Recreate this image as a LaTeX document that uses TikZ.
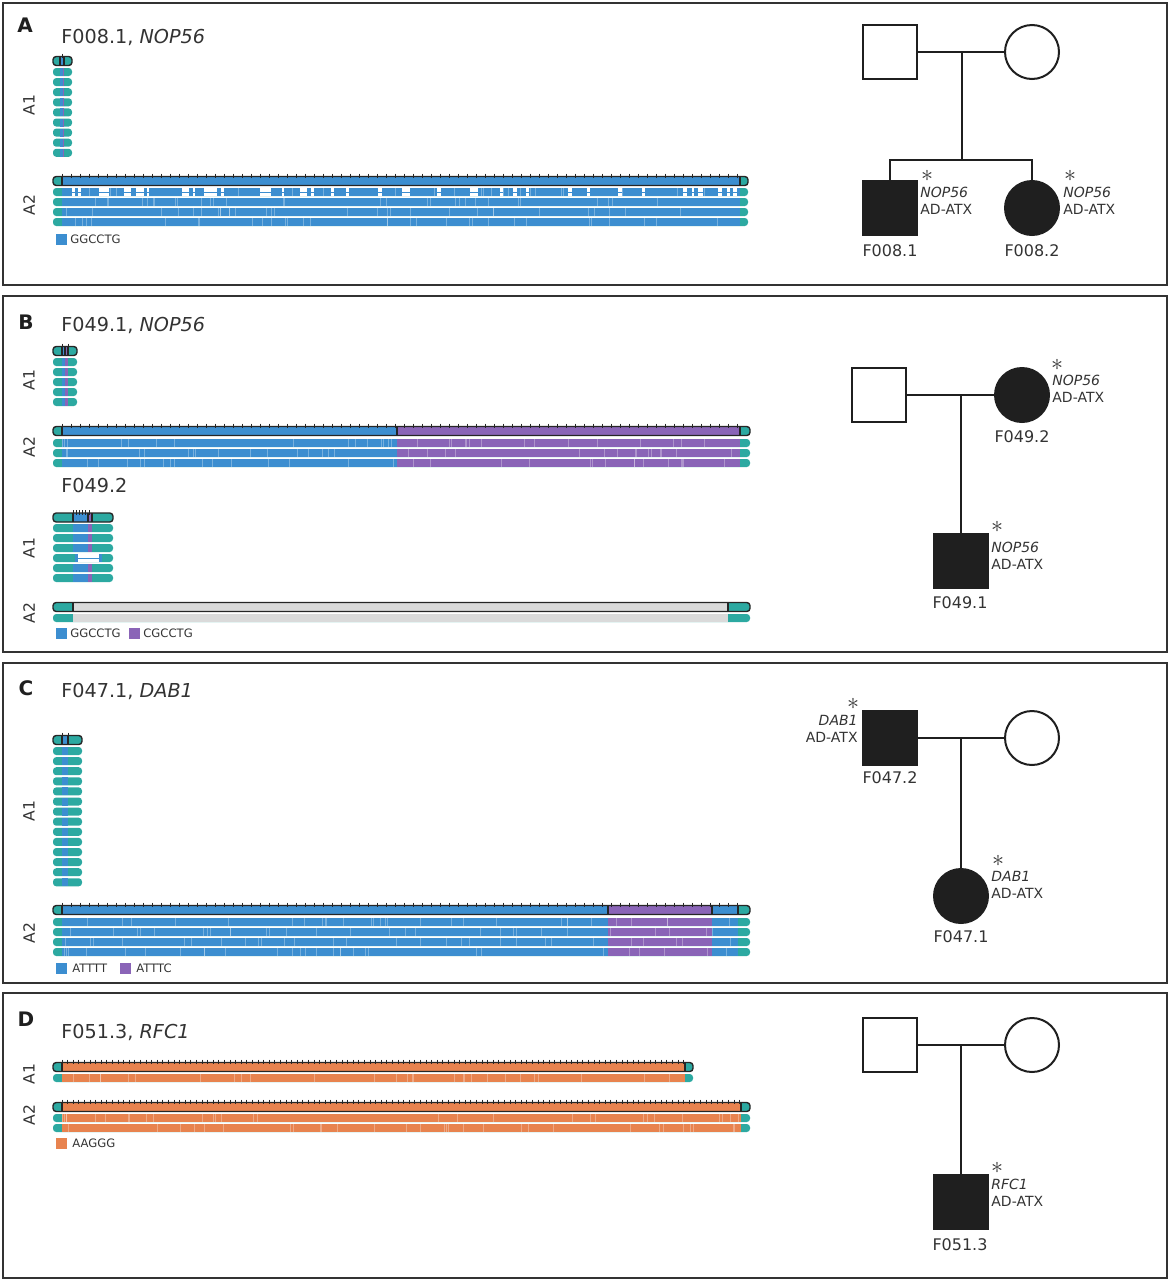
\documentclass[tikz,border=0pt]{standalone}
\usepackage{fontspec}
\setmainfont{DejaVu Sans}
\definecolor{ink}{HTML}{333333}
\definecolor{flank}{HTML}{2CA9A1}
\definecolor{rpA}{HTML}{3C8ED0}
\definecolor{rpB}{HTML}{8A64B7}
\definecolor{rpC}{HTML}{E8834F}
\definecolor{gapgrey}{HTML}{DADADA}

\newcommand{\seqread}[4]{%
  \fill[flank, rounded corners=1.6pt] (#1,#3-4) rectangle (#2,#3+4);
  \foreach \sa/\sb/\sc in {#4}{%
    \fill[\sc] (\sa,#3-4) rectangle (\sb,#3+4);
    \pgfmathtruncatemacro{\seqn}{(\sb-\sa)/22}
    \ifnum\seqn>0
      \foreach \seqk in {1,...,\seqn}{%
        \pgfmathsetmacro{\seqx}{\sa+rnd*(\sb-\sa)}
        \draw[white, opacity=.3, line width=.3pt] (\seqx,#3-4) -- (\seqx,#3+4);}
    \fi}}
\newcommand{\seqhead}[7]{%
  \fill[flank, rounded corners=1.6pt] (#1,#3-4.5) rectangle (#2,#3+4.5);
  \foreach \sa/\sb/\sc in {#4}{\fill[\sc] (\sa,#3-4.5) rectangle (\sb,#3+4.5);}
  \foreach \sa/\sb/\sc in {#4}{\draw[line width=.6pt, black!85] (\sa,#3-4.5) -- (\sa,#3+4.5) (\sb,#3-4.5) -- (\sb,#3+4.5);}
  \draw[line width=.7pt, black!85, rounded corners=1.6pt] (#1,#3-4.5) rectangle (#2,#3+4.5);
  \ifdim #7pt>0pt
    \pgfmathtruncatemacro{\seqt}{(#6-#5)/#7}
    \foreach \seqk in {0,...,\seqt}{\draw[line width=.45pt, black!85] ({#5+\seqk*#7},#3-7.5) -- ({#5+\seqk*#7},#3-3);}
  \fi}

\tikzset{
  frame/.style={draw=ink, line width=1.1pt},
  ped/.style={draw=black!88, line width=1pt},
  male/.style={ped, rectangle, minimum size=27pt, inner sep=0pt, fill=white},
  female/.style={ped, circle, minimum size=27pt, inner sep=0pt, fill=white},
  aff/.style={fill=black!88},
  plabel/.style={font=\bfseries\fontsize{10}{12}\selectfont, text=black!88, inner sep=0pt},
  ptitle/.style={font=\fontsize{9.6}{11}\selectfont, text=ink, anchor=base west, inner sep=0pt},
  trk/.style={font=\fontsize{7.8}{9}\selectfont, text=ink, rotate=90, inner sep=0pt},
  idl/.style={font=\fontsize{8}{10}\selectfont, text=ink, inner sep=0pt},
  anno/.style={font=\fontsize{7}{8.5}\selectfont, text=ink, align=left, anchor=west, inner sep=0pt},
  annoleft/.style={anno, align=right, anchor=east},
  starmark/.style={font=\fontsize{12.5}{12.5}\selectfont, text=ink, inner sep=0pt},
  key/.style={font=\fontsize{5.8}{7}\selectfont, text=ink, anchor=west, inner sep=0pt},
  keybox/.style={minimum size=5.5pt, inner sep=0pt}
}

\begin{document}
\begin{tikzpicture}[x=0.5pt, y=-0.5pt]
\useasboundingbox (0,0) rectangle (1170,1280);
\pgfmathsetseed{11}
\foreach \ya/\yb in {3/285, 296/652, 663/983, 993/1278} \draw[frame] (3,\ya) rectangle (1167,\yb);

% A
\node[plabel] (lblA) at (25,25) {A};
\node[ptitle] (ttlA) at (61,43) {F008.1, \textit{NOP56}};
\node[trk] (trkA1) at (29,105) {A1};
\node[trk] (trkA2) at (29,205) {A2};
\seqhead{53}{72}{61}{60/64/rpA}{62}{62}{9}
\foreach \r in {0,...,8} {\seqread{53}{72}{72+10.1*\r}{60/62.5/rpA, 62.5/64/rpB}}
\seqhead{53}{748}{181}{62/740/rpA}{62}{740}{9}
\foreach \r in {192,202,212,222} {\seqread{53}{748}{\r}{62/740/rpA}}
\foreach \ga/\gb in {72/75, 78/81, 99/109, 124/131, 136/144, 147/149, 182/189, 193/195, 204/217, 221/224, 260/271, 282/284, 300/307, 311/314, 331/334, 346/349, 378/382, 402/410, 437/441, 470/478, 500/503, 513/517, 526/529, 568/572, 587/590, 618/622, 642/645, 683/687, 692/694, 698/703, 718/722, 727/730, 733/737}
  {\fill[white] (\ga,187.8) rectangle (\gb,196.2); \draw[rpA, line width=.5pt] (\ga,192) -- (\gb,192);}
\node[keybox, fill=rpA] (kA1) at (61.5,239) {};
\node[key] (kA1t) at (70,239) {GGCCTG};

\node[male] (famA-f) at (890,52) {};
\node[female] (famA-m) at (1032,52) {};
\node[male, aff] (famA-c1) at (890,208) {};
\node[female, aff] (famA-c2) at (1032,208) {};
\coordinate (famA-u) at (962,52);
\coordinate (famA-s) at (962,160);
\draw[ped] (famA-f) -- (famA-m);
\draw[ped] (famA-u) -- (famA-s);
\draw[ped] (famA-c1.north) |- (famA-s) -| (famA-c2.north);
\node[idl] (idA1) at (890,251) {F008.1};
\node[idl] (idA2) at (1032,251) {F008.2};
\node[starmark] (stA1) at (927,176) {$\ast$};
\node[anno] (anA1) at (920,200.5) {\textit{NOP56}\\AD-ATX};
\node[starmark] (stA2) at (1070,176) {$\ast$};
\node[anno] (anA2) at (1063,200.5) {\textit{NOP56}\\AD-ATX};

% B
\node[plabel] (lblB) at (26,322) {B};
\node[ptitle] (ttlB) at (61,331) {F049.1, \textit{NOP56}};
\node[trk] (trkB1) at (29,380) {A1};
\node[trk] (trkB2) at (29,447) {A2};
\seqhead{53}{77}{351}{62/65/rpA, 65/68/rpB}{62}{68}{6}
\foreach \r in {362,372,382,392,402} {\seqread{53}{77}{\r}{62/65/rpA, 65/68/rpB}}
\seqhead{53}{750}{431}{62/397/rpA, 397/740/rpB}{62}{740}{9}
\foreach \r in {443,453,463} {\seqread{53}{750}{\r}{62/397/rpA, 397/740/rpB}}
\node[ptitle] (ttlB2) at (61,492) {F049.2};
\node[trk] (trkB3) at (29,548) {A1};
\node[trk] (trkB4) at (29,613) {A2};
\seqhead{53}{113}{517.5}{73/88/rpA, 88/92/rpB}{73}{92}{3.2}
\foreach \r in {528,538,548,568,578} {\seqread{53}{113}{\r}{73/88/rpA, 88/92/rpB}}
\seqread{53}{113}{558}{75/78/rpA, 99/102/rpA}
\fill[white] (78,553.8) rectangle (99,562.2);
\draw[rpA, line width=.5pt] (78,558) -- (99,558);
\seqhead{53}{750}{607}{73/728/gapgrey}{0}{0}{0}
\fill[flank, rounded corners=1.6pt] (53,614) rectangle (750,622);
\fill[gapgrey] (73,614) rectangle (728,622);
\node[keybox, fill=rpA] (kB1) at (61.5,633) {};
\node[key] (kB1t) at (70,633) {GGCCTG};
\node[keybox, fill=rpB] (kB2) at (134.5,633) {};
\node[key] (kB2t) at (143,633) {CGCCTG};

\node[male] (famB-f) at (879,395) {};
\node[female, aff] (famB-m) at (1022,395) {};
\node[male, aff] (famB-c1) at (961,561) {};
\coordinate (famB-u) at (961,395);
\draw[ped] (famB-f) -- (famB-m);
\draw[ped] (famB-u) -- (famB-c1.north);
\node[idl] (idB2) at (1022,437) {F049.2};
\node[idl] (idB1) at (960,603) {F049.1};
\node[starmark] (stB2) at (1057,365) {$\ast$};
\node[anno] (anB2) at (1052,388.5) {\textit{NOP56}\\AD-ATX};
\node[starmark] (stB1) at (997,527) {$\ast$};
\node[anno] (anB1) at (991,555.5) {\textit{NOP56}\\AD-ATX};

% C
\node[plabel] (lblC) at (26,688) {C};
\node[ptitle] (ttlC) at (61,697) {F047.1, \textit{DAB1}};
\node[trk] (trkC1) at (29,811) {A1};
\node[trk] (trkC2) at (29,933) {A2};
\seqhead{53}{82}{740}{62/68/rpA}{62}{68}{6}
\foreach \r in {0,...,13} {\seqread{53}{82}{751+10.1*\r}{62/68/rpA}}
\seqhead{53}{750}{910}{62/608/rpA, 608/712/rpB, 712/738/rpA}{62}{738}{9}
\foreach \r in {922,932,942,952} {\seqread{53}{750}{\r}{62/608/rpA, 608/712/rpB, 712/738/rpA}}
\node[keybox, fill=rpA] (kC1) at (61.5,968) {};
\node[key] (kC1t) at (72,968) {ATTTT};
\node[keybox, fill=rpB] (kC2) at (125.5,968) {};
\node[key] (kC2t) at (136,968) {ATTTC};

\node[male, aff] (famC-f) at (890,738) {};
\node[female] (famC-m) at (1032,738) {};
\node[female, aff] (famC-c1) at (961,896) {};
\coordinate (famC-u) at (961,738);
\draw[ped] (famC-f) -- (famC-m);
\draw[ped] (famC-u) -- (famC-c1.north);
\node[idl] (idC2) at (890,778) {F047.2};
\node[idl] (idC1) at (961,937) {F047.1};
\node[starmark] (stC2) at (853,704) {$\ast$};
\node[annoleft] (anC2) at (858,729) {\textit{DAB1}\\AD-ATX};
\node[starmark] (stC1) at (998,861) {$\ast$};
\node[anno] (anC1) at (991,885) {\textit{DAB1}\\AD-ATX};

% D
\node[plabel] (lblD) at (26,1019) {D};
\node[ptitle] (ttlD) at (61,1038) {F051.3, \textit{RFC1}};
\node[trk] (trkD1) at (29,1074) {A1};
\node[trk] (trkD2) at (29,1115) {A2};
\seqhead{53}{693}{1067}{62/685/rpC}{62}{685}{5.6}
\seqread{53}{693}{1078}{62/685/rpC}
\seqhead{53}{750}{1107}{62/741/rpC}{62}{741}{5.6}
\foreach \r in {1118,1128} {\seqread{53}{750}{\r}{62/741/rpC}}
\node[keybox, fill=rpC] (kD1) at (61.5,1143) {};
\node[key] (kD1t) at (72,1143) {AAGGG};

\node[male] (famD-f) at (890,1045) {};
\node[female] (famD-m) at (1032,1045) {};
\node[male, aff] (famD-c1) at (961,1202) {};
\coordinate (famD-u) at (961,1045);
\draw[ped] (famD-f) -- (famD-m);
\draw[ped] (famD-u) -- (famD-c1.north);
\node[idl] (idD1) at (960,1245) {F051.3};
\node[starmark] (stD1) at (997,1168) {$\ast$};
\node[anno] (anD1) at (991,1192.5) {\textit{RFC1}\\AD-ATX};
\end{tikzpicture}
\end{document}
